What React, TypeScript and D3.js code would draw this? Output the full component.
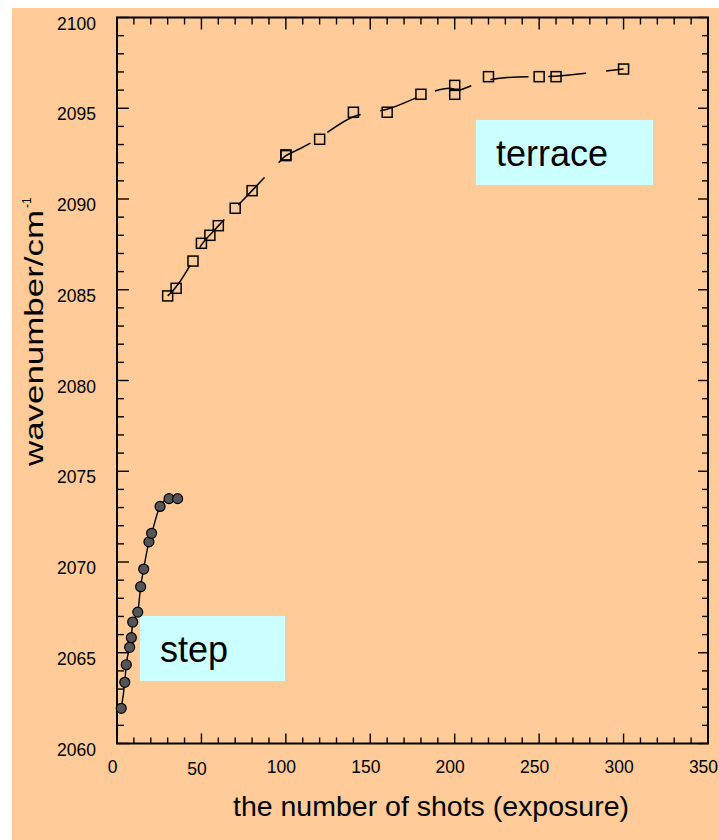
import React from "react";
import * as d3 from "d3";

// ---- data ----
const stepShots = [2.5, 4.6, 5.5, 7.5, 8.5, 9.3, 12.3, 14.0, 15.8, 18.9, 20.5, 25.5, 30.8, 35.9];
const stepWavenumber = [2061.94, 2063.37, 2064.34, 2065.3, 2065.83, 2066.69, 2067.24, 2068.64, 2069.61, 2071.11, 2071.58, 2073.06, 2073.49, 2073.49];

const terraceShots = [30, 35, 45, 50, 55, 60, 70, 80, 100, 100, 120, 140, 160, 180, 200, 200, 220, 250, 260, 300];
const terraceWavenumber = [2084.66, 2085.08, 2086.58, 2087.56, 2088.0, 2088.53, 2089.49, 2090.46, 2092.43, 2092.39, 2093.29, 2094.78, 2094.78, 2095.77, 2096.26, 2095.77, 2096.74, 2096.74, 2096.74, 2097.16];

const xTickLabels = [0, 50, 100, 150, 200, 250, 300, 350];
const yTickLabels = [2060, 2065, 2070, 2075, 2080, 2085, 2090, 2095, 2100];

const xTitle = "the number of shots (exposure)";
const yTitle = "wavenumber/cm";
const yTitleSup = "-1";
const stepLabel = "step";
const terraceLabel = "terrace";

const FONT = "'Liberation Sans', Arial, Helvetica, sans-serif";

export default function App() {
  const W = 719;
  const H = 840;
  const left = 117, right = 708, top = 17.5, bottom = 743.5;

  const x = d3.scaleLinear().domain([0, 350]).range([left, right]);
  const y = d3.scaleLinear().domain([2060, 2100]).range([bottom, top]);

  const stepPts: [number, number][] = stepShots.map((s, i) => [s, stepWavenumber[i]]);
  const terracePts: [number, number][] = terraceShots.map((s, i) => [s, terraceWavenumber[i]]);

  const stepLine = d3
    .line<[number, number]>()
    .x((d) => x(d[0]))
    .y((d) => y(d[1]))
    .curve(d3.curveMonotoneX)(stepPts) as string;

  const terraceLine = d3
    .line<[number, number]>()
    .x((d) => x(d[0]))
    .y((d) => y(d[1]))
    .curve(d3.curveBasis)(terracePts) as string;

  const xMinor = d3.range(0, 351, 10);
  const yMinor = d3.range(2060, 2101, 1);

  const tickStroke = { stroke: "#000", strokeWidth: 1.4 };

  return (
    <svg
      width={W}
      height={H}
      style={{ position: "absolute", left: 0, top: 0 }}
      xmlns="http://www.w3.org/2000/svg"
    >
      <rect x={0} y={0} width={W} height={H} fill="#fff" />
      <rect x={12} y={8} width={W - 12} height={H - 8} fill="#FFCC99" />

      {/* ticks */}
      {xMinor.map((v) => {
        const major = v % 50 === 0;
        const px = x(v);
        return (
          <g key={"xt" + v}>
            <line x1={px} x2={px} y1={bottom} y2={bottom - (major ? 10 : 6)} {...tickStroke} />
            <line x1={px} x2={px} y1={top} y2={top + (major ? 12 : 7)} {...tickStroke} />
          </g>
        );
      })}
      {yMinor.map((v) => {
        const major = v % 5 === 0;
        const py = y(v);
        return (
          <g key={"yt" + v}>
            <line x1={left} x2={left + (major ? 12 : 7)} y1={py} y2={py} {...tickStroke} />
            <line x1={right} x2={right - (major ? 10 : 6)} y1={py} y2={py} {...tickStroke} />
          </g>
        );
      })}
      <rect x={left} y={top} width={right - left} height={bottom - top} fill="none" stroke="#000" strokeWidth={2} />

      {/* tick labels */}
      {xTickLabels.map((v) => (
        <text
          key={"xl" + v}
          x={x(v) - 4.5}
          y={772.5 + (v === 50 ? 2.5 : 0)}
          textAnchor="middle"
          fontFamily={FONT}
          fontSize={17.5}
          fill="#000"
        >
          {v}
        </text>
      ))}
      {yTickLabels.map((v) => (
        <text
          key={"yl" + v}
          x={96}
          y={y(v) + 12}
          textAnchor="end"
          fontFamily={FONT}
          fontSize={17.5}
          fill="#000"
        >
          {v}
        </text>
      ))}

      {/* axis titles */}
      <text x={431} y={816} textAnchor="middle" fontFamily={FONT} fontSize={28.5} fill="#000">
        {xTitle}
      </text>
      <g transform="translate(43,466) rotate(-90)">
        <text
          x={0}
          y={0}
          fontFamily={FONT}
          fontSize={25}
          fill="#000"
          textLength={256}
          lengthAdjust="spacingAndGlyphs"
        >
          {yTitle}
        </text>
        <text x={258} y={-12} fontFamily={FONT} fontSize={12} fill="#000">
          {yTitleSup}
        </text>
      </g>

      {/* label boxes */}
      <rect x={476} y={120} width={177} height={65} fill="#CCFFFF" />
      <text x={496} y={166} fontFamily={FONT} fontSize={36} fill="#000">
        {terraceLabel}
      </text>
      <rect x={140} y={616} width={145} height={65} fill="#CCFFFF" />
      <text x={160} y={662} fontFamily={FONT} fontSize={36} fill="#000">
        {stepLabel}
      </text>

      {/* step series */}
      <path d={stepLine} fill="none" stroke="#000" strokeWidth={1.4} />
      {stepPts.map((d, i) => (
        <circle key={"s" + i} cx={x(d[0])} cy={y(d[1])} r={5} fill="#555555" stroke="#000" strokeWidth={1.2} />
      ))}

      {/* terrace series */}
      <path d={terraceLine} fill="none" stroke="#000" strokeWidth={1.5} strokeDasharray="38 20" />
      {terracePts.map((d, i) => (
        <rect
          key={"t" + i}
          x={x(d[0]) - 5}
          y={y(d[1]) - 5}
          width={10}
          height={10}
          fill="none"
          stroke="#000"
          strokeWidth={1.5}
        />
      ))}
    </svg>
  );
}
